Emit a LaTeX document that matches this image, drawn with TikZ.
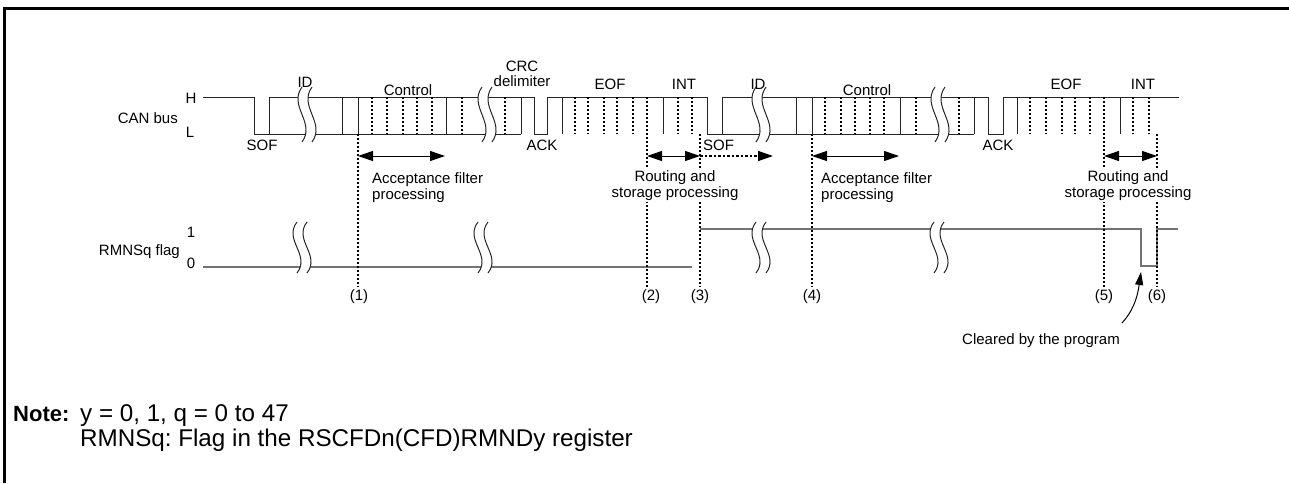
\documentclass[tikz,border=0pt]{standalone}
\usepackage{fontspec}
\setmainfont{Liberation Sans}
\usetikzlibrary{arrows.meta}
\frenchspacing
\newcommand\brkmark[3]{%
  \pgfmathsetmacro\brkA{#2+0.35*(#3-#2)}%
  \pgfmathsetmacro\brkB{#2+0.65*(#3-#2)}%
  \fill[white] ({#1-5},#2) .. controls ({#1-19},\brkA) and ({#1+9},\brkB) .. ({#1-5},#3) -- ({#1+5},#3) .. controls ({#1+19},\brkB) and ({#1-9},\brkA) .. ({#1+5},#2) -- cycle;
  \draw[brkline] ({#1-5},#2) .. controls ({#1-19},\brkA) and ({#1+9},\brkB) .. ({#1-5},#3);
  \draw[brkline] ({#1+5},#2) .. controls ({#1-9},\brkA) and ({#1+19},\brkB) .. ({#1+5},#3);
}
\begin{document}
\begin{tikzpicture}[x=1pt,y=-1pt,
  bus/.style={line width=1pt,black!85},
  brkline/.style={line width=1pt,black!85},
  dsep/.style={line width=1.6pt,dash pattern=on 2.2pt off 1.8pt},
  flagline/.style={line width=1.6pt,black!55},
  dbl/.style={line width=1pt,{Triangle[length=15pt,width=10pt]}-{Triangle[length=15pt,width=10pt]}},
  sgl/.style={line width=1.4pt,dash pattern=on 2.5pt off 2pt,-{Triangle[length=15pt,width=10pt]}},
  lbl/.style={inner sep=0pt,font=\fontsize{15}{15.5}\selectfont},
  notehead/.style={inner sep=0pt,font=\fontsize{22}{24}\selectfont\bfseries},
  notefont/.style={inner sep=0pt,font=\fontsize{24.2}{26}\selectfont}
]
\useasboundingbox (0,0) rectangle (1289,483);
% frame
\draw[line width=3pt] (4.7,483) -- (4.7,8.3) -- (1289,8.3);

% CAN bus waveform
\draw[bus] (203,97) -- (254,97) -- (254,134) -- (521,134);
\draw[bus] (269,134) -- (269,97) -- (534,97) -- (534,134) -- (547,134) -- (547,97) -- (707,97) -- (707,134) -- (722,134) -- (722,97) -- (988,97) -- (988,134) -- (1003,134) -- (1003,97) -- (1179,97);
\draw[bus] (722,134) -- (974,134);
\foreach \x in {342,358,446,521,562,663,796,812,900,974,1017,1120}
  \draw[bus] (\x,97) -- (\x,134);
\foreach \x in {372,387,403,417,432,462,505,575,588,604,617,633,678,692,825,841,855,870,884,916,959,1030,1046,1062,1075,1090,1133,1149}
  \draw[dsep] (\x,97) -- (\x,134);
\brkmark{307}{87}{142}
\brkmark{487}{87}{142}
\brkmark{761}{87}{142}
\brkmark{940}{87}{142}

% RMNSq flag waveform
\draw[flagline] (203,267) -- (692,267);
\draw[flagline] (700,229) -- (1141,229) -- (1141,266) -- (1157,266) -- (1157,229) -- (1178,229);
\brkmark{302}{222}{273}
\brkmark{483}{222}{273}
\brkmark{761}{222}{273}
\brkmark{939}{222}{273}

% timing lines
\coordinate (t1a) at (358,134); \coordinate (t1b) at (358,287);
\coordinate (t2a) at (647,97);  \coordinate (t2b) at (647,287);
\coordinate (t3a) at (700,134); \coordinate (t3b) at (700,287);
\coordinate (t4a) at (812,134); \coordinate (t4b) at (812,287);
\coordinate (t5a) at (1104,97); \coordinate (t5b) at (1104,287);
\coordinate (t6a) at (1157,134);\coordinate (t6b) at (1157,287);
\draw[dsep] (t1a) -- (t1b);
\draw[dsep] (t2a) -- (t2b);
\draw[dsep] (t3a) -- (t3b);
\draw[dsep] (t4a) -- (t4b);
\draw[dsep] (t5a) -- (t5b);
\draw[dsep] (t6a) -- (t6b);

% arrows
\coordinate (a1) at (358,156); \coordinate (a1e) at (445,156);
\coordinate (a2) at (647,156); \coordinate (a3) at (700,156); \coordinate (a3e) at (773,156);
\coordinate (a4) at (812,156); \coordinate (a4e) at (899,156);
\coordinate (a5) at (1104,156); \coordinate (a6) at (1157,156);
\draw[dbl] (a1) -- (a1e);
\draw[dbl] (a2) -- (a3);
\draw[sgl] (a3) -- (a3e);
\draw[dbl] (a4) -- (a4e);
\draw[dbl] (a5) -- (a6);

% left labels
\node[lbl,anchor=base east] (canbus) at (178,123) {CAN bus};
\node[lbl,anchor=base] (hl) at (191,103) {H};
\node[lbl,anchor=base] (ll) at (190,137) {L};
\node[lbl,anchor=base east] (rmns) at (180,255) {RMNSq flag};
\node[lbl,anchor=base] (one) at (191,237) {1};
\node[lbl,anchor=base] (zero) at (191,268) {0};

% field labels
\node[lbl,anchor=base] (id1) at (305,87) {ID};
\node[lbl,anchor=base] (ctl1) at (408,95) {Control};
\node[lbl,align=center] (crc) at (522,73.7) {CRC\\delimiter};
\node[lbl,anchor=base] (eof1) at (610,89) {EOF};
\node[lbl,anchor=base] (int1) at (684,89) {INT};
\node[lbl,anchor=base] (id2) at (758,89) {ID};
\node[lbl,anchor=base] (ctl2) at (867,95) {Control};
\node[lbl,anchor=base] (eof2) at (1066,89) {EOF};
\node[lbl,anchor=base] (int2) at (1143,89) {INT};
\node[lbl,anchor=base] (sof1) at (262,150) {SOF};
\node[lbl,anchor=base] (ack1) at (542,150) {ACK};
\node[lbl,anchor=base west] (sof2) at (703,150) {SOF};
\node[lbl,anchor=base] (ack2) at (998,150) {ACK};

% processing labels
\node[lbl,align=left,anchor=west] (acc1) at (372,187.6) {Acceptance filter\\processing};
\node[lbl,align=left,anchor=west] (acc2) at (821,187.6) {Acceptance filter\\processing};
\node[lbl,align=center,fill=white,inner sep=2pt] (rout1) at (675,185.6) {Routing and\\storage processing};
\node[lbl,align=center,fill=white,inner sep=2pt] (rout2) at (1128,185.6) {Routing and\\storage processing};

% timing numbers
\node[lbl] (n1) at (359,297) {(1)};
\node[lbl] (n2) at (651,297) {(2)};
\node[lbl] (n3) at (700,297) {(3)};
\node[lbl] (n4) at (812,297) {(4)};
\node[lbl] (n5) at (1104,297) {(5)};
\node[lbl] (n6) at (1157,297) {(6)};

% cleared by program
\node[lbl,anchor=base] (clr) at (1041,344) {Cleared by the program};
\coordinate (clrS) at (1122,323);
\coordinate (clrE) at (1141,272);
\draw[line width=1pt,-{Triangle[length=13pt,width=8pt]}] (clrS) .. controls (1132,312) and (1137,300) .. (clrE);

% note
\node[notehead,anchor=base west] (note) at (13,421) {Note:};
\node[notefont,anchor=base west] (note1) at (80,421) {y = 0, 1, q = 0 to 47};
\node[notefont,anchor=base west] (note2) at (80,446) {RMNSq: Flag in the RSCFDn(CFD)RMNDy register};
\end{tikzpicture}
\end{document}
